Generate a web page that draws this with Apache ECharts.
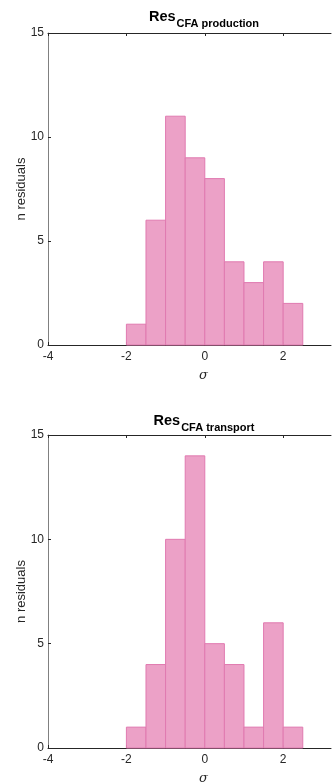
<!DOCTYPE html>
<html>
<head>
<meta charset="utf-8">
<script src="https://cdn.jsdelivr.net/npm/echarts@6/dist/echarts.min.js"></script>
<style>
  html, body { margin: 0; padding: 0; background: #fff; }
  #chart { width: 336px; height: 784px; }
</style>
</head>
<body>
<div id="chart"></div>
<script>
// Histogram bins (width 0.5 sigma)
const binStarts = [-2, -1.5, -1, -0.5, 0, 0.5, 1, 1.5, 2];
const binWidth = 0.5;
const productionCounts = [1, 6, 11, 9, 8, 4, 3, 4, 2];
const transportCounts = [1, 4, 10, 14, 5, 4, 1, 6, 1];
const xTicks = [-4, -2, 0, 2];
const yTicks = [0, 5, 10, 15];
const panelTitles = ['CFA production', 'CFA transport'];

const FONT = 'Liberation Sans, Arial, Helvetica, sans-serif';
const INK = '#262626';
const FILL = '#eca1c7';
const EDGE = '#e07ab0';

function binsData(counts) {
  return counts.map((c, i) => [binStarts[i], binStarts[i] + binWidth, c]);
}

const grids = [
  { left: 48, top: 33, width: 283, height: 312 },
  { left: 48, top: 435, width: 283, height: 313 }
];
const titleTops = [4, 408];

const xAxes = [];
const yAxes = [];
const series = [];
const titles = [];

grids.forEach((g, k) => {
  // bottom axis with labels
  xAxes.push({
    type: 'value', gridIndex: k, min: -4, max: 3.22, position: 'bottom',
    axisLine: { show: true, onZero: false, lineStyle: { color: INK, width: 1 } },
    axisTick: { show: true, inside: true, length: 3, customValues: xTicks, lineStyle: { color: INK } },
    axisLabel: { show: true, customValues: xTicks, color: INK, fontSize: 12, fontFamily: FONT, margin: 6 },
    splitLine: { show: false }
  });
  // top border with ticks only
  xAxes.push({
    type: 'value', gridIndex: k, min: -4, max: 3.22, position: 'top',
    axisLine: { show: true, onZero: false, lineStyle: { color: INK, width: 1 } },
    axisTick: { show: true, inside: true, length: 3, customValues: xTicks, lineStyle: { color: INK } },
    axisLabel: { show: false },
    splitLine: { show: false }
  });
  yAxes.push({
    type: 'value', gridIndex: k, min: 0, max: 15, interval: 5, position: 'left',
    name: 'n residuals', nameLocation: 'middle', nameGap: 20, nameMoveOverlap: false,
    nameTextStyle: { color: INK, fontSize: 13, fontFamily: FONT },
    axisLine: { show: true, onZero: false, lineStyle: { color: '#808080', width: 1 } },
    axisTick: { show: true, inside: true, length: 3, lineStyle: { color: INK } },
    axisLabel: { show: true, customValues: yTicks, color: INK, fontSize: 12, fontFamily: FONT, margin: 4 },
    splitLine: { show: false }
  });
  series.push({
    type: 'custom',
    xAxisIndex: k * 2, yAxisIndex: k,
    data: binsData(k === 0 ? productionCounts : transportCounts),
    encode: { x: [0, 1], y: 2 },
    renderItem: function (params, api) {
      const p0 = api.coord([api.value(0), api.value(2)]);
      const p1 = api.coord([api.value(1), 0]);
      return {
        type: 'rect',
        shape: { x: p0[0], y: p0[1], width: p1[0] - p0[0], height: p1[1] - p0[1] },
        style: { fill: FILL, stroke: EDGE, lineWidth: 1 }
      };
    }
  });
  titles.push({
    left: 199, top: titleTops[k], textAlign: 'center',
    text: '{r|Res}{s|' + panelTitles[k] + '}',
    textStyle: {
      rich: {
        r: { fontSize: 14.5, fontWeight: 'bold', color: '#000', fontFamily: FONT, lineHeight: 18, verticalAlign: 'top' },
        s: { fontSize: 11, fontWeight: 'bold', color: '#000', fontFamily: FONT, lineHeight: 18, padding: [9, 0, 0, 1], verticalAlign: 'top' }
      }
    }
  });
});

const chart = echarts.init(document.getElementById('chart'), null, { renderer: 'canvas' });
chart.setOption({
  animation: false,
  backgroundColor: '#fff',
  title: titles,
  grid: grids,
  xAxis: xAxes,
  yAxis: yAxes,
  series: series,
  graphic: grids.map(g => ({
    type: 'text',
    left: 199, top: g.top + g.height + 24,
    style: { text: 'σ', fontSize: 13, fontStyle: 'italic', fontFamily: 'DejaVu Serif, serif', fill: INK }
  }))
});
</script>
</body>
</html>
